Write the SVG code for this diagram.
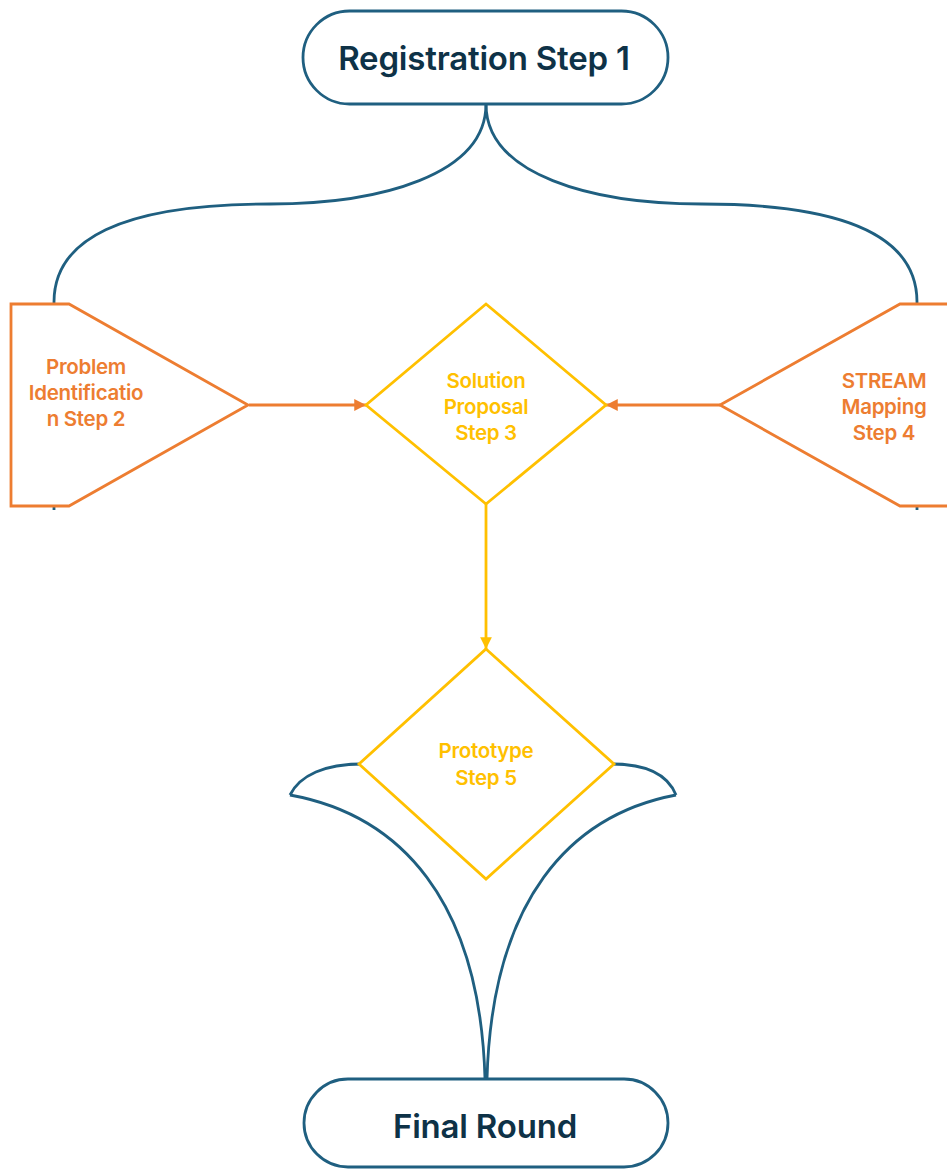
<svg xmlns="http://www.w3.org/2000/svg" width="947" height="1169" viewBox="0 0 947 1169">
<style>
.blue{fill:none;stroke:#1F5F80;stroke-width:2.8}
.term{fill:#fff;stroke:#1F5F80;stroke-width:2.8}
.orange{fill:#fff;stroke:#ED7D31;stroke-width:2.8;stroke-linejoin:miter}
.yellow{fill:#fff;stroke:#FFC000;stroke-width:2.8}
.tl{font-family:Inter,"Liberation Sans",sans-serif;font-weight:600;font-size:33px;fill:#0E3247;text-anchor:middle;letter-spacing:-0.2px}
.to{font-family:Inter,"Liberation Sans",sans-serif;font-weight:600;font-size:20.5px;fill:#ED7D31;text-anchor:middle;letter-spacing:-0.3px}
.ty{font-family:Inter,"Liberation Sans",sans-serif;font-weight:600;font-size:20.5px;fill:#FFC000;text-anchor:middle;letter-spacing:-0.3px}
</style>
<defs>
<marker id="ao" viewBox="0 0 10 10" refX="10" refY="5" markerWidth="4.2" markerHeight="4.2" orient="auto"><path d="M0,0 L10,5 L0,10 z" fill="#ED7D31"/></marker>
<marker id="ay" viewBox="0 0 10 10" refX="10" refY="5" markerWidth="4.2" markerHeight="4.2" orient="auto"><path d="M0,0 L10,5 L0,10 z" fill="#FFC000"/></marker>
</defs>
<rect width="947" height="1169" fill="#fff"/>
<g id="connectors">
<path class="blue" d="M486,104 C486,175 380,204 270,204 C120,204 54,240 54,302 L54,510"/>
<path class="blue" d="M486,104 C486,175 592,204 702,204 C852,204 917,240 917,302 L917,510"/>
<path class="blue" d="M290,795 C300,775 325,764 362,764"/>
<path class="blue" d="M290,795 C400,815 480,900 485,1079"/>
<path class="blue" d="M676,795 C668,775 648,764 612,764"/>
<path class="blue" d="M676,795 C570,815 492,900 487,1079"/>
<line x1="249" y1="405" x2="366" y2="405" stroke="#ED7D31" stroke-width="2.8" marker-end="url(#ao)"/>
<line x1="720" y1="405" x2="606" y2="405" stroke="#ED7D31" stroke-width="2.8" marker-end="url(#ao)"/>
<line x1="486" y1="504" x2="486" y2="649" stroke="#FFC000" stroke-width="2.8" marker-end="url(#ay)"/>
</g>
<g id="node-registration">
<rect class="term" x="303" y="11" width="365" height="93" rx="46.5"/>
<text class="tl" x="484" y="70">Registration Step 1</text>
</g>
<g id="node-problem">
<polygon class="orange" points="11,304 69,304 248,405 69,506 11,506"/>
<text class="to" x="86" y="374">Problem</text>
<text class="to" x="86" y="400">Identificatio</text>
<text class="to" x="86" y="426">n Step 2</text>
</g>
<g id="node-solution">
<polygon class="yellow" points="486,304 606,405 486,504 366,405"/>
<text class="ty" x="486" y="388">Solution</text>
<text class="ty" x="486" y="414">Proposal</text>
<text class="ty" x="486" y="440">Step 3</text>
</g>
<g id="node-stream">
<polygon class="orange" points="952,304 900,304 720,405 900,506 952,506"/>
<text class="to" x="884" y="388">STREAM</text>
<text class="to" x="884" y="414">Mapping</text>
<text class="to" x="884" y="440">Step 4</text>
</g>
<g id="node-prototype">
<polygon class="yellow" points="486,649 614,764 486,879 359,764"/>
<text class="ty" x="486" y="758">Prototype</text>
<text class="ty" x="486" y="785">Step 5</text>
</g>
<g id="node-final">
<rect class="term" x="304" y="1079" width="364" height="88" rx="44"/>
<text class="tl" x="485" y="1138">Final Round</text>
</g>
</svg>
